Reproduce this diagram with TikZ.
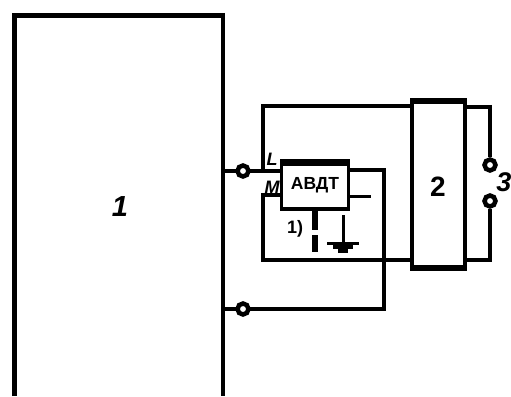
\documentclass[tikz,border=0pt]{standalone}
\usepackage{fontspec}
\setmainfont{Liberation Sans}
\tikzset{
  wire/.style={line width=4.5pt,line cap=butt,line join=miter},
  term/.style={circle,draw,line width=4.5pt,fill=white,minimum size=11pt,inner sep=0pt},
  lab/.style={font=\bfseries,inner sep=0pt},
}
\begin{document}
\begin{tikzpicture}[x=1pt,y=-1pt]
\useasboundingbox (0,0) rectangle (511,396);
% main block 1 (open at the bottom)
\draw[line width=5.5pt] (14.5,396) -- (14.5,15);
\draw[line width=5.5pt] (12,15.5) -- (225,15.5);
\draw[line width=4pt] (223,13) -- (223,396);
\node[lab,font=\bfseries\itshape\fontsize{29}{29}\selectfont] (n1) at (120,207) {1};
% coordinates
\coordinate (a1) at (223,171);
\coordinate (a2) at (223,309);
\coordinate (j1) at (263,171);
\coordinate (tl) at (263,106);
\coordinate (ml) at (263,195);
\coordinate (bl) at (263,260);
\coordinate (rt) at (384,170);
\coordinate (rb) at (384,309);
\coordinate (c3) at (490,107);
\coordinate (c4) at (490,260);
\coordinate (st) at (371,196);
% box 2
\node[draw,line width=4pt,minimum width=53pt,minimum height=169pt,inner sep=0pt] (b2) at (438.5,184.5) {};
\draw[line width=6pt] (410.5,101) -- (466.5,101);
\draw[line width=6pt] (410.5,268) -- (466.5,268);
\node[lab,font=\bfseries\fontsize{28}{28}\selectfont] (n2) at (438,187) {2};
% box ABDT
\node[draw,line width=3.5pt,minimum width=67pt,minimum height=48pt,inner sep=0pt,
  font=\bfseries\fontsize{17.5}{18}\selectfont] (ab) at (315,185) {АВДТ};
\draw[line width=6pt] (280,162.5) -- (350,162.5);
% wires
\draw[wire] (a1) -- (j1) -- (ab.west |- j1);
\draw[wire] (j1) -- (tl) -- (b2.west |- tl);
\draw[wire,line width=4pt] (ab.east |- rt) -- (rt) -- (rb) -- (a2);
\draw[wire] (ab.west |- ml) -- (ml) -- (bl);
\draw[wire,line width=4pt] (261,260) -- (b2.west |- bl);
\draw[line width=3pt] (ab.east |- st) -- (st);
\draw[wire] (b2.east |- c3) -- (c3);
\draw[wire,line width=4pt] (b2.east |- c4) -- (c4);
% terminals
\node[term] (t1) at (243,171) {};
\node[term] (t2) at (243,309) {};
\node[term] (t3) at (490,165) {};
\node[term] (t4) at (490,201) {};
\draw[wire] (490,104.8) -- (t3);
\draw[wire] (t4) -- (490,262);
% dashed link
\draw[line width=6pt] (ab.south) -- ++(0,19);
\draw[line width=6pt] (315,235) -- (315,252);
% ground
\draw[line width=3pt] (343,215) -- (343,253);
\draw[line width=3.5pt] (327,243.5) -- (359,243.5);
\draw[line width=4pt] (333,247) -- (353,247);
\draw[line width=4pt] (338,251) -- (348,251);
% labels
\node[lab,font=\bfseries\fontsize{18}{18}\selectfont] (n4) at (295,229) {1)};
\node[lab,font=\bfseries\itshape\fontsize{18}{18}\selectfont] (nL) at (272,159) {L};
\node[lab,font=\bfseries\itshape\fontsize{18}{18}\selectfont] (nM) at (272,187) {M};
\node[lab,font=\bfseries\itshape\fontsize{27}{27}\selectfont] (n3) at (504,182) {3};
\end{tikzpicture}
\end{document}
